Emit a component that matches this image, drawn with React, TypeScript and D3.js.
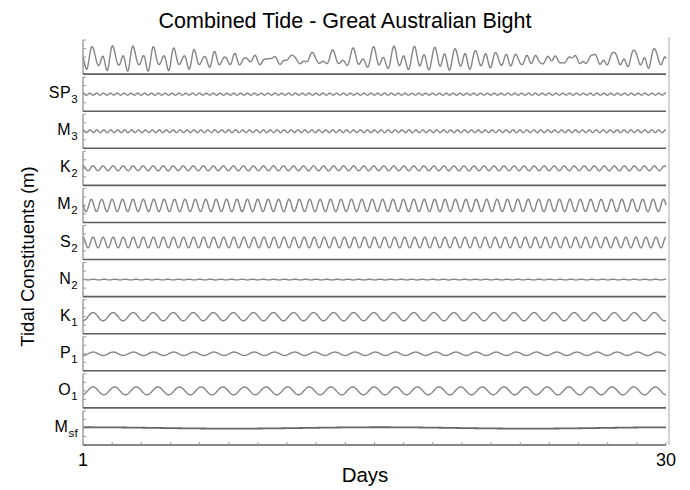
import React from "react";
import * as d3 from "d3";

// chart text
const titleText = "Combined Tide - Great Australian Bight";
const yAxisTitle = "Tidal Constituents (m)";
const xAxisTitle = "Days";
const dayTicks = [1, 30];

// panels, top to bottom (first one is the combined tide, no label)
const panelKeys = ["Combined", "SP3", "M3", "K2", "M2", "S2", "N2", "K1", "P1", "O1", "Msf"];
const labelMain = ["", "SP", "M", "K", "M", "S", "N", "K", "P", "O", "M"];
const labelSub = ["", "3", "3", "2", "2", "2", "2", "1", "1", "1", "sf"];

// constituents (same order as panels 2..11)
const constituentNames = ["SP3", "M3", "K2", "M2", "S2", "N2", "K1", "P1", "O1", "Msf"];
const amplitudes = [0.06, 0.08, 0.14, 0.36, 0.31, 0.02, 0.24, 0.1, 0.23, 0.04]; // m
const speedsDegPerHour = [44.0, 43.4761563, 30.0821373, 28.9841042, 30.0, 28.4397295, 15.0410686, 14.9589314, 13.9430356, 1.0158958];
const phasesDeg = [0, 0, 0, 287, 0, 0, 180, 180, 167, 0];

const W = 690;
const H = 490;
const left = 83;
const right = 666;
const top = 40;
const bottom = 445;
const font = "'Liberation Sans', Arial, sans-serif";

// half-hour samples over the 29 days shown
const hours = d3.range(0, 29 * 24 + 0.01, 0.5);

const series = constituentNames.map((_, i) =>
  hours.map((t) => amplitudes[i] * Math.cos(((speedsDegPerHour[i] * t - phasesDeg[i]) * Math.PI) / 180))
);
const combined = hours.map((_, k) => d3.sum(series, (s) => s[k]));

const App = () => {
  const x = d3.scaleLinear().domain([1, 30]).range([left, right]);
  const band = d3.scaleBand<string>().domain(panelKeys).range([top, bottom]).paddingInner(0.08).paddingOuter(0);
  const bw = band.bandwidth();

  const xTickPos = d3.range(0, 21).map((i) => 1 + (29 * i) / 20);

  const panels = panelKeys.map((key, i) => {
    const y0 = band(key) as number;
    const y1 = y0 + bw;
    const values = i === 0 ? combined : series[i - 1];
    const ext = d3.extent(combined) as [number, number];
    const y =
      i === 0
        ? d3.scaleLinear().domain(ext).range([y1 - 3, y0 + 6])
        : d3.scaleLinear().domain([-1, 1]).range([y1, y0]);
    const line = d3
      .line<number>()
      .x((_, k) => x(1 + hours[k] / 24))
      .y((v) => y(v));
    const ys = d3.scaleLinear().domain([-1, 1]).range([y1, y0]);
    const yt = ys.ticks(4);
    return (
      <g key={key}>
        <path
          d={line(values) || ""}
          fill="none"
          stroke={key === "Msf" ? "#666" : "#858585"}
          strokeWidth={key === "Msf" ? 1.8 : 1.4}
        />
        <line x1={left} x2={left} y1={y0} y2={y1} stroke="#888" strokeWidth={1.2} />
        {yt.map((t) => (
          <line key={t} x1={left} x2={left + 3} y1={ys(t)} y2={ys(t)} stroke="#999" strokeWidth={1} />
        ))}
        <line x1={left} x2={right} y1={y1} y2={y1} stroke="#5f5f5f" strokeWidth={1.6} />
        {labelMain[i] && (
          <text x={78} y={(y0 + y1) / 2 + 4} textAnchor="end" fontSize={16} fill="#000" letterSpacing={0.6}>
            {labelMain[i]}
            <tspan fontSize={11.5} dy={5} letterSpacing={0.3}>
              {labelSub[i]}
            </tspan>
          </text>
        )}
      </g>
    );
  });

  return (
    <svg width={W} height={H} style={{ position: "absolute", left: 0, top: 0, background: "#fff" }} fontFamily={font}>
      <rect width={W} height={H} fill="#fff" />
      <text x={345} y={28} textAnchor="middle" fontSize={21.5} fill="#000">
        {titleText}
      </text>
      {panels}
      <line x1={669} x2={669} y1={37} y2={bottom} stroke="#aaa" strokeWidth={1} />
      {xTickPos.map((d, i) => (
        <line key={i} x1={x(d)} x2={x(d)} y1={bottom} y2={bottom - 3} stroke="#999" strokeWidth={1} />
      ))}
      {dayTicks.map((d) => (
        <text key={d} x={x(d)} y={466} textAnchor="middle" fontSize={18} fill="#000">
          {d}
        </text>
      ))}
      <text x={365} y={482} textAnchor="middle" fontSize={20.5} fill="#000">
        {xAxisTitle}
      </text>
      <text
        transform={`translate(34, ${(top + bottom) / 2 + 14}) rotate(-90)`}
        textAnchor="middle"
        fontSize={18.5}
        fill="#000"
      >
        {yAxisTitle}
      </text>
    </svg>
  );
};

export default App;
